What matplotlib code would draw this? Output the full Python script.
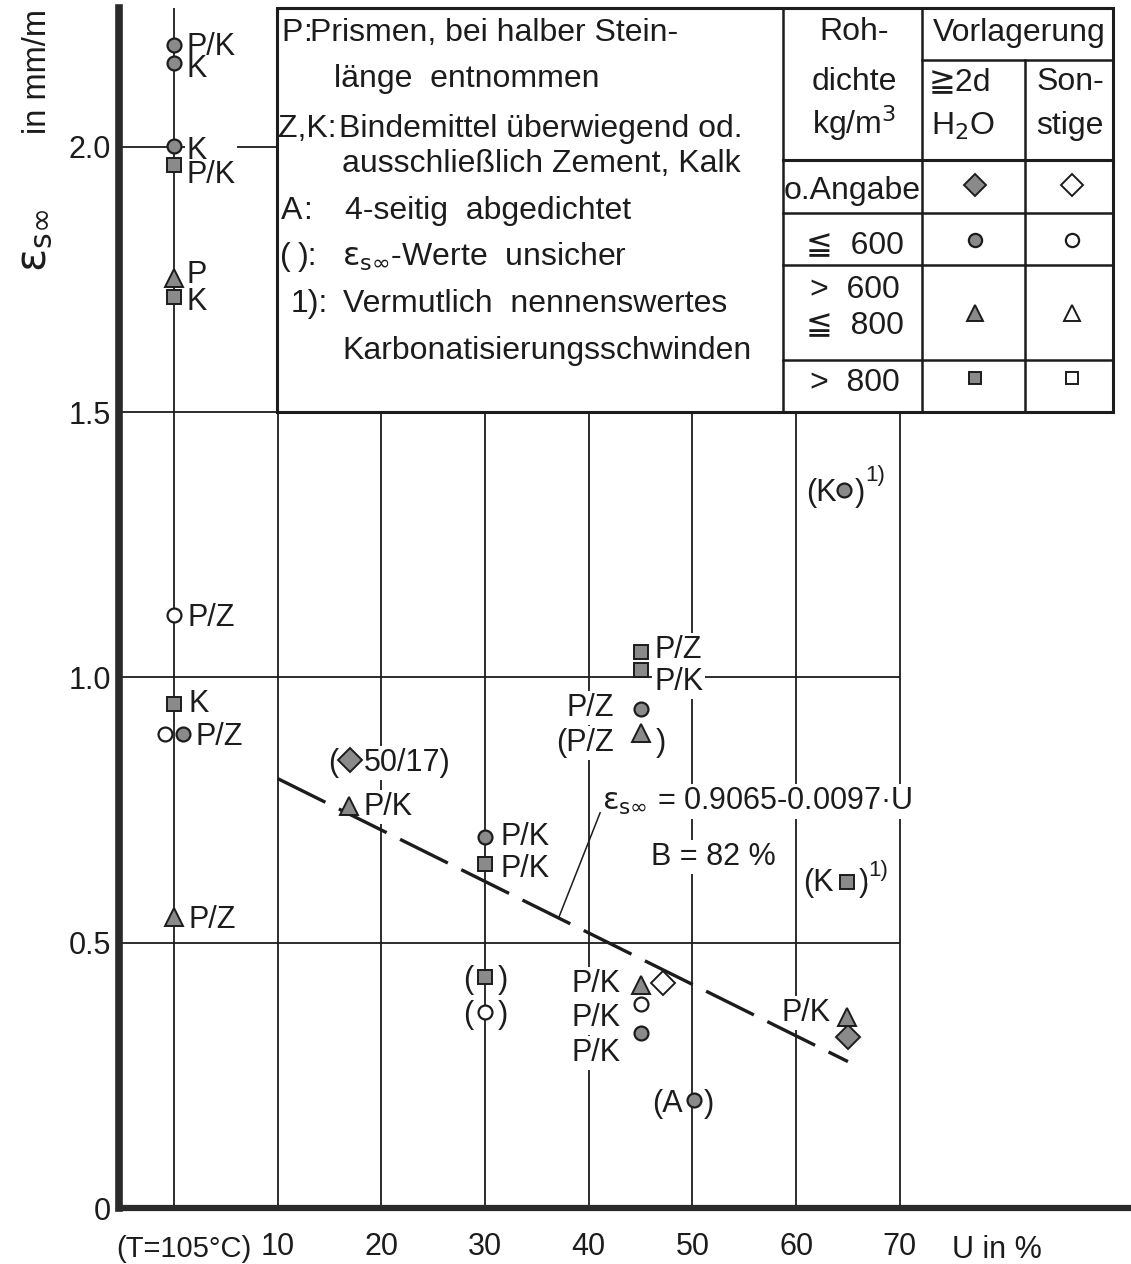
import matplotlib
matplotlib.use("Agg")
import matplotlib.pyplot as plt
from matplotlib.lines import Line2D
from matplotlib.patches import Rectangle

plt.rcParams['font.family'] = ['Liberation Sans', 'DejaVu Sans']

INK = '#1c1c1c'
FILL = '#8a8a8a'
FS = 22
EPS = r'$\mathrm{ε}_{\mathrm{s}\infty}$'

# Final drying shrinkage eps_s_inf (mm/m) against moisture content U (%).
# U = 0 stands for the oven-dried state (T = 105 °C).
diamond_full_u = [17.0, 65.0]
diamond_full_e = [0.845, 0.322]
diamond_open_u = [47.2]
diamond_open_e = [0.424]
circle_full_u = [0.0, 0.0, 0.0, 0.9, 30.0, 45.0, 45.0, 50.2, 64.6]
circle_full_e = [2.192, 2.159, 2.002, 0.893, 0.699, 0.940, 0.330, 0.204, 1.353]
circle_open_u = [0.0, -0.9, 30.0, 45.0]
circle_open_e = [1.118, 0.893, 0.370, 0.385]
triangle_full_u = [0.0, 0.0, 16.9, 45.0, 45.0, 64.9]
triangle_full_e = [1.753, 0.549, 0.758, 0.895, 0.420, 0.360]
square_full_u = [0.0, 0.0, 0.0, 30.0, 30.0, 45.0, 45.0, 64.9]
square_full_e = [1.966, 1.717, 0.950, 0.648, 0.436, 1.048, 1.014, 0.615]

# regression eps = a - b * U
reg_a = 0.9065
reg_b = 0.0097
reg_u = [10.0, 65.0]

x_ticks = [10, 20, 30, 40, 50, 60, 70]
y_ticks = [0, 0.5, 1.0, 1.5, 2.0]
y_tick_labels = ['0', '0.5', '1.0', '1.5', '2.0']

W, H = 1131, 1264
fig = plt.figure(figsize=(W / 100, H / 100), dpi=100)
fig.patch.set_facecolor('white')
ax = fig.add_axes([119 / W, 56 / H, 1 - 119 / W, (1208 - 8) / H])
XMIN, XMAX = -5.3, 92.3
YMAX = 2.262
ax.set_xlim(XMIN, XMAX)
ax.set_ylim(0, YMAX)

for side in ('top', 'right'):
    ax.spines[side].set_visible(False)
ax.spines['left'].set_linewidth(5.5)
ax.spines['left'].set_color('#2a2a2a')
ax.spines['bottom'].set_linewidth(4.5)
ax.spines['bottom'].set_color('#2a2a2a')
ax.set_xticks(x_ticks)
ax.set_xticklabels([str(t) for t in x_ticks])
ax.set_yticks(y_ticks)
ax.set_yticklabels(y_tick_labels)
ax.tick_params(length=0, labelsize=FS, colors=INK)
ax.tick_params(axis='y', pad=6)
ax.tick_params(axis='x', pad=17)

xb = ax.get_xaxis_transform()
ax.text(1.0, -27 / 1200, '(T=105°C)', transform=xb, ha='center', va='top',
        fontsize=21, color=INK)
ax.text(79.4, -27 / 1200, 'U in %', transform=xb, ha='center', va='top',
        fontsize=FS, color=INK)
fig.text(38 / W, 1 - 72 / H, 'in mm/m', rotation=90,
         ha='center', va='center', fontsize=23.5, color=INK)
fig.text(35 / W, 1 - 240 / H, EPS, rotation=90,
         ha='center', va='center', fontsize=31, color=INK)

# grid
GL = dict(color=INK, lw=1.3, zorder=1, solid_capstyle='butt')
ax.plot([0, 0], [0, YMAX], **GL)
for u in x_ticks:
    ax.plot([u, u], [0, 1.5], **GL)
for e in (0.5, 1.0, 1.5):
    ax.plot([XMIN, 70], [e, e], **GL)
ax.plot([XMIN, 10], [2.0, 2.0], **GL)

# regression line and its leader
reg_e = [reg_a - reg_b * u for u in reg_u]
ax.plot(reg_u, reg_e, color=INK, lw=2.4, dashes=(16, 4.5), zorder=3.5,
        dash_capstyle='butt')
ax.plot([37.1, 41.1], [0.547, 0.745], color=INK, lw=1.1, zorder=3.5)

MK = dict(ls='none', zorder=4, mec=INK)
STYLE = {
    'D': dict(marker='D', ms=12, mew=1.4),
    'o': dict(marker='o', ms=10, mew=1.6),
    '^': dict(marker='^', ms=12.5, mew=1.4),
    's': dict(marker='s', ms=9.5, mew=1.4),
}
ax.plot(diamond_full_u, diamond_full_e, mfc=FILL, **STYLE['D'], **MK)
ax.plot(diamond_open_u, diamond_open_e, mfc='white', **STYLE['D'], **MK)
ax.plot(circle_full_u, circle_full_e, mfc=FILL, **STYLE['o'], **MK)
ax.plot(circle_open_u, circle_open_e, mfc='white', **STYLE['o'], **MK)
ax.plot(triangle_full_u, triangle_full_e, mfc=FILL, **STYLE['^'], **MK)
ax.plot(square_full_u, square_full_e, mfc=FILL, **STYLE['s'], **MK)


def label(text, u, e, ha='left', fs=FS, box=True, ls=1.2):
    ax.annotate(text, (u, e), xytext=(0, -0.36 * fs), textcoords='offset points',
                ha=ha, va='baseline', fontsize=fs, color=INK, zorder=3,
                linespacing=ls,
                bbox=dict(boxstyle='square,pad=0.06', fc='white', ec='none') if box else None)


# stacked labels on the oven-dry line (anchored at the last line's cap centre)
label('P/K\nK', 1.2, 2.152, box=False, ls=0.66)
label('K\nP/K', 1.2, 1.953, box=True, ls=0.72)
label('P\nK', 1.2, 1.713, box=False, ls=0.86)

# (text, U, eps, alignment, white backing to break grid lines)
point_labels = [
    ('P/Z', 1.3, 1.118, 'left', False), ('K', 1.4, 0.956, 'left', False),
    ('P/Z', 2.1, 0.893, 'left', False), ('P/Z', 1.4, 0.549, 'left', False),
    ('(', 15.9, 0.845, 'right', True), ('50/17)', 18.3, 0.845, 'left', True),
    ('P/K', 18.3, 0.762, 'left', True),
    ('P/K', 31.5, 0.705, 'left', True), ('P/K', 31.5, 0.645, 'left', True),
    ('(', 28.9, 0.436, 'right', True), (')', 31.2, 0.436, 'left', True),
    ('(', 28.9, 0.370, 'right', True), (')', 31.2, 0.370, 'left', True),
    ('P/Z', 46.3, 1.058, 'left', True), ('P/K', 46.3, 0.997, 'left', True),
    ('P/Z', 42.4, 0.948, 'right', True), ('(P/Z', 42.4, 0.882, 'right', True),
    (')', 46.5, 0.882, 'left', True),
    ('P/K', 43.1, 0.428, 'right', True), ('P/K', 43.1, 0.364, 'right', True),
    ('P/K', 43.1, 0.298, 'right', True),
    ('(A', 49.1, 0.202, 'right', True), (')', 51.1, 0.202, 'left', True),
    ('P/K', 63.3, 0.373, 'right', True),
    ('(K', 63.9, 1.353, 'right', True), (')', 65.7, 1.353, 'left', True),
    ('(K', 63.6, 0.618, 'right', True), (')', 66.0, 0.618, 'left', True),
]
for t, u, e, ha, bx in point_labels:
    label(t, u, e, ha, box=bx)
label('1)', 66.7, 1.385, fs=16)
label('1)', 67.0, 0.640, fs=16)

ax.annotate(EPS + ' = 0.9065-0.0097·U', (41.3, 0.750),
            ha='left', va='baseline', fontsize=FS, color=INK, zorder=3,
            bbox=dict(boxstyle='square,pad=0.06', fc='white', ec='none'))
ax.annotate('B = 82 %', (46.0, 0.647), ha='left', va='baseline', fontsize=FS,
            color=INK, zorder=3,
            bbox=dict(boxstyle='square,pad=0.06', fc='white', ec='none'))


# ---- explanation box and symbol table (figure pixel layout)
def fx(x):
    return x / W


def fy(y):
    return 1 - y / H


def fline(x0, y0, x1, y1, lw=1.8):
    fig.add_artist(Line2D([fx(x0), fx(x1)], [fy(y0), fy(y1)], transform=fig.transFigure,
                          color=INK, lw=lw, zorder=6, solid_capstyle='projecting'))


def ftext(x, ycap, s, ha='left', fs=23):
    yb = ycap + 0.5 * 0.716 * fs * 100 / 72
    fig.text(fx(x), fy(yb), s, ha=ha, va='baseline', fontsize=fs, color=INK, zorder=7)


fig.add_artist(Rectangle((fx(277), fy(412)), fx(1113) - fx(277), fy(8) - fy(412),
                         transform=fig.transFigure, fc='white', ec=INK, lw=2.2, zorder=5))
fline(783, 8, 783, 412)
fline(922, 8, 922, 412)
fline(1025, 60, 1025, 412)
fline(922, 60, 1113, 60)
fline(783, 160, 1113, 160, lw=2.2)
fline(783, 213, 1113, 213)
fline(783, 265, 1113, 265)
fline(783, 360, 1113, 360)

keys = [('P', 281, 30), (':', 303, 30), ('Z,K:', 278, 126), ('A', 281, 208), (':', 303, 208),
        ('(', 280, 254), ('):', 298, 254), ('1):', 291, 301)]
for s, x, y in keys:
    ftext(x, y, s)
desc = [('Prismen, bei halber Stein-', 310, 30), ('länge  entnommen', 334, 76),
        ('Bindemittel überwiegend od.', 339, 126), ('ausschließlich Zement, Kalk', 342, 161),
        ('4-seitig  abgedichtet', 345, 208),
        (EPS + '-Werte  unsicher', 342, 254),
        ('Vermutlich  nennenswertes', 343, 301), ('Karbonatisierungsschwinden', 342, 348)]
for s, x, y in desc:
    ftext(x, y, s)

table_text = [('Roh-', 854, 29), ('dichte', 854, 79), ('kg/m$^3$', 854, 123),
              ('Vorlagerung', 1019, 30), ('≧2d', 960, 79), ('H$_2$O', 963, 123),
              ('Son-', 1070, 79), ('stige', 1070, 123), ('o.Angabe', 852, 188),
              ('≦  600', 855, 242), ('>  600', 855, 287), ('≦  800', 855, 322),
              ('>  800', 855, 380)]
for s, x, y in table_text:
    ftext(x, y, s, ha='center')

table_marks = [('D', 185), ('o', 240), ('^', 313), ('s', 378)]
for m, y in table_marks:
    st = dict(STYLE[m])
    st['ms'] = st['ms'] * 0.95
    fig.add_artist(Line2D([fx(975)], [fy(y)], transform=fig.transFigure, mfc=FILL,
                          mec=INK, ls='none', zorder=7, **st))
    fig.add_artist(Line2D([fx(1072)], [fy(y)], transform=fig.transFigure, mfc='white',
                          mec=INK, ls='none', zorder=7, **st))

fig.savefig('out.png', dpi=100, facecolor='white')
